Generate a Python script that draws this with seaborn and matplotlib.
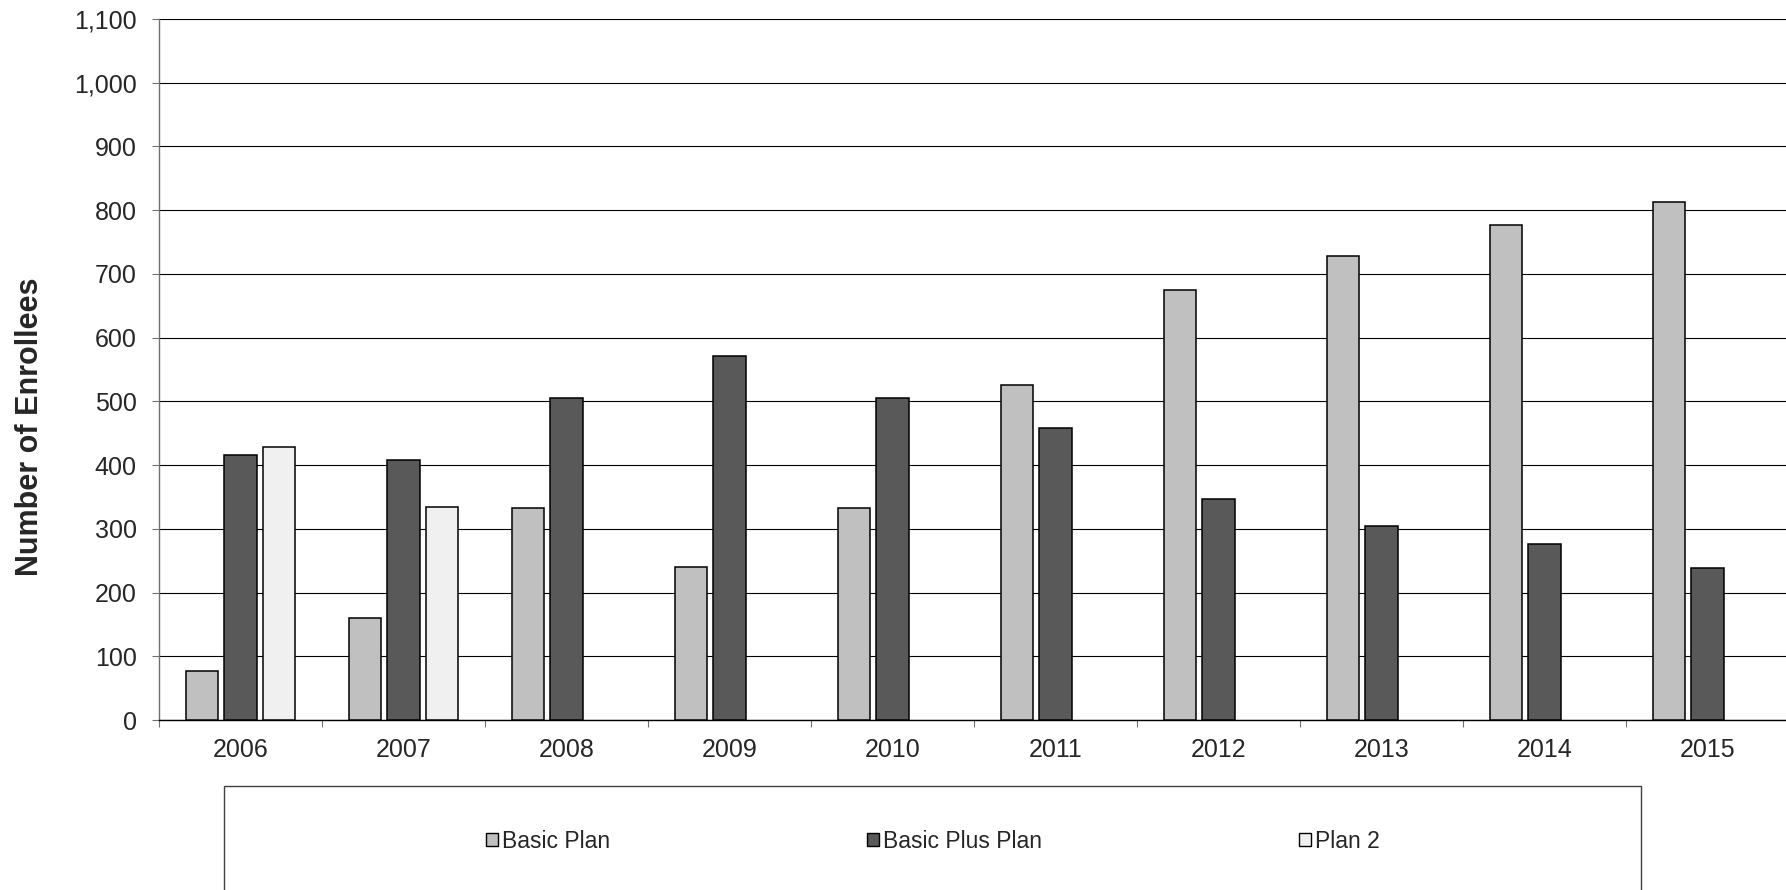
import numpy as np
import pandas as pd
import matplotlib
matplotlib.use("Agg")
import matplotlib.pyplot as plt
from matplotlib.patches import Rectangle
from matplotlib.ticker import FuncFormatter, FixedLocator
import seaborn as sns

# Enrollment counts by plan and year
years = ["2006", "2007", "2008", "2009", "2010", "2011", "2012", "2013", "2014", "2015"]
basic_plan = [77, 160, 332, 240, 332, 526, 674, 728, 777, 813]
basic_plus_plan = [416, 408, 505, 571, 505, 458, 347, 304, 276, 238]
plan_2 = [428, 334, np.nan, np.nan, np.nan, np.nan, np.nan, np.nan, np.nan, np.nan]

plans = ["Basic Plan", "Basic Plus Plan", "Plan 2"]
plan_colors = ["#C0C0C0", "#595959", "#F0F0F0"]
y_ticks = list(range(0, 1101, 100))

df = pd.DataFrame({
    "Year": years * 3,
    "Plan": [p for p in plans for _ in years],
    "Enrollees": basic_plan + basic_plus_plan + plan_2,
}).dropna()

sns.set_style("white")
plt.rcParams["font.family"] = ["Liberation Sans", "DejaVu Sans"]

W, H = 1786, 890
fig = plt.figure(figsize=(W / 100, H / 100), dpi=100)
ax = fig.add_axes([159 / W, 170 / H, 1630 / W, 701 / H])

sns.barplot(
    data=df, x="Year", y="Enrollees", hue="Plan",
    order=years, hue_order=plans, palette=plan_colors,
    width=0.712, gap=0.158, edgecolor="black", linewidth=1.1,
    saturation=1, ax=ax, zorder=3,
)

ax.set_xlim(-0.5, len(years) - 0.5)
ax.set_ylim(0, 1100)
ax.yaxis.set_major_locator(FixedLocator(y_ticks))
ax.yaxis.set_major_formatter(FuncFormatter(lambda v, _: f"{int(v):,}"))
ax.grid(axis="y", color="black", linewidth=0.8, zorder=0)
ax.set_axisbelow(True)

for side in ("top", "right"):
    ax.spines[side].set_visible(False)
ax.spines["left"].set_color("#707070")
ax.spines["left"].set_linewidth(1.0)
ax.spines["bottom"].set_color("black")
ax.spines["bottom"].set_linewidth(1.0)

ax.tick_params(axis="y", which="major", length=5, width=0.8, color="#707070",
               direction="out", pad=11, labelsize=18, left=True)
ax.tick_params(axis="x", which="major", length=0, pad=13, labelsize=18)
ax.xaxis.set_minor_locator(FixedLocator(np.arange(-0.5, len(years), 1.0)))
ax.tick_params(axis="x", which="minor", length=5, width=0.8, color="#707070",
               direction="out", bottom=True)

ax.set_xlabel("")
ax.set_ylabel("Number of Enrollees", fontsize=22, fontweight="bold")
ax.yaxis.set_label_coords((45 - 159) / 1630, (720 - 426.5) / 701)

# Legend below the plot, inside a framed box
old = ax.get_legend()
handles = list(old.legend_handles)
labels = [t.get_text() for t in old.get_texts()]
old.remove()
for h, c in zip(handles, plan_colors):
    h.set_facecolor(c)
    h.set_edgecolor("black")
    h.set_linewidth(1.0)

fs = 16.5
fs_px = fs * 100 / 72
fig.legend(
    handles, labels, ncol=3, loc="center",
    bbox_to_anchor=(932.5 / W, 1 - 841 / H), bbox_transform=fig.transFigure,
    frameon=False, fontsize=fs,
    handlelength=12 / fs_px, handleheight=12 / fs_px,
    handletextpad=4 / fs_px, columnspacing=257 / fs_px,
)
fig.add_artist(Rectangle((224 / W, -6 / H), (1641 - 224) / W, (896 - 786) / H,
                         transform=fig.transFigure, fill=False,
                         edgecolor="#404040", linewidth=1.0))

fig.savefig("out.png", dpi=100, facecolor="white")
